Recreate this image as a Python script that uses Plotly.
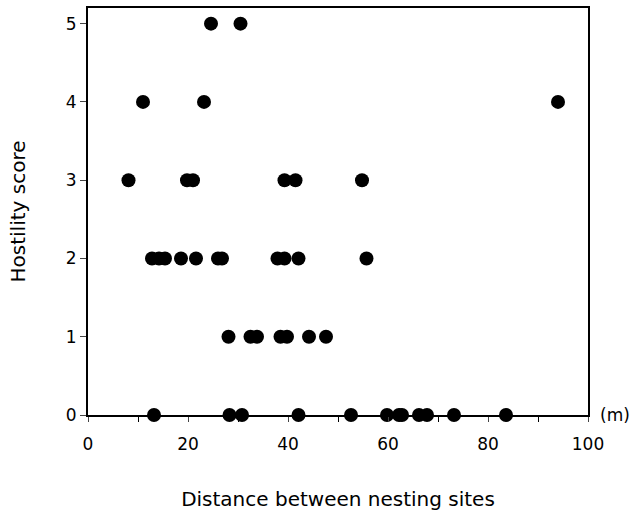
import plotly.graph_objects as go

dist_5 = [24.6, 30.5]
dist_4 = [11.0, 23.2, 94.0]
dist_3 = [8.1, 19.8, 21.0, 39.3, 41.5, 54.8]
dist_2 = [12.8, 14.2, 15.4, 18.6, 21.6, 26.0, 26.8, 37.9, 39.3, 42.1, 55.7]
dist_1 = [28.1, 32.5, 33.8, 38.5, 39.8, 44.2, 47.6]
dist_0 = [13.2, 28.3, 30.8, 42.1, 52.6, 59.8, 62.2, 62.8, 66.2, 67.8, 73.2, 83.6]

groups = [(5, dist_5), (4, dist_4), (3, dist_3), (2, dist_2), (1, dist_1), (0, dist_0)]
xs, ys = [], []
for score, ds in groups:
    xs += ds
    ys += [score] * len(ds)

x_ticks = [0, 20, 40, 60, 80, 100]
y_ticks = [0, 1, 2, 3, 4, 5]

fig = go.Figure()
fig.add_trace(go.Scatter(x=xs, y=ys, mode="markers", cliponaxis=False,
                         marker=dict(size=14, color="black"), showlegend=False))

fam = "DejaVu Sans, Verdana, sans-serif"
font = dict(family=fam, size=17, color="black")
fig.update_layout(
    width=632, height=516,
    margin=dict(l=88, r=44, t=6, b=101),
    plot_bgcolor="white", paper_bgcolor="white",
    font=font,
    xaxis=dict(range=[0, 100], tickvals=x_ticks, ticks="outside", ticklen=5,
               ticklabelstandoff=8,
               showline=True, linecolor="black", linewidth=2, mirror=True,
               showgrid=False, zeroline=False,
               minor=dict(dtick=10, ticks="outside", ticklen=5, tickcolor="black"),
               title=dict(text="Distance between nesting sites", standoff=39,
                          font=dict(family=fam, size=20))),
    yaxis=dict(range=[0, 5.2], tickvals=y_ticks, ticks="outside", ticklen=6,
               showline=True, linecolor="black", linewidth=2, mirror=True,
               showgrid=False, zeroline=False,
               title=dict(text="Hostility score", standoff=35,
                          font=dict(family=fam, size=20))),
    annotations=[dict(text="(m)", x=1.0, y=0, xref="paper", yref="y",
                      xanchor="left", yanchor="middle", xshift=10,
                      showarrow=False, font=font)],
)
fig.write_html("out.html", config={"displayModeBar": False},
               post_script="document.body.style.margin='0px';")
